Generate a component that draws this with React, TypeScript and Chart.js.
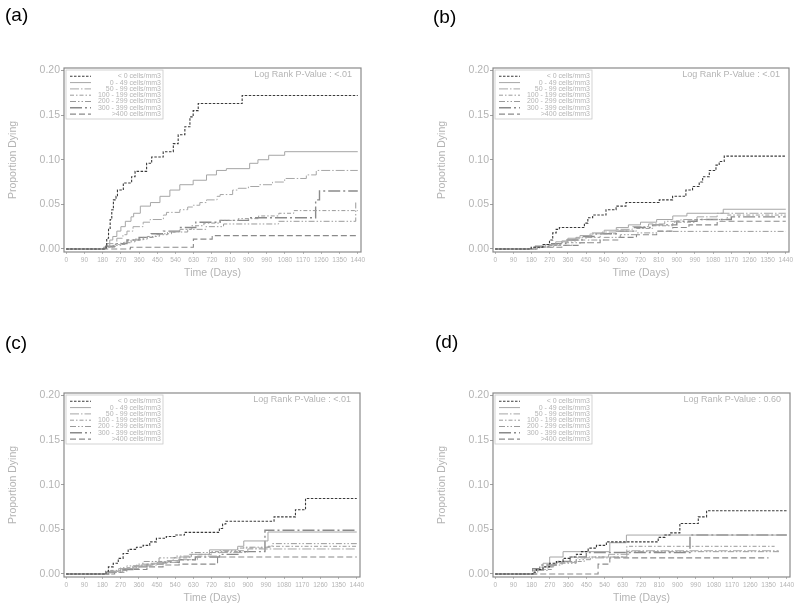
import React, { useEffect, useRef } from "react";
import { Chart, registerables } from "chart.js";
Chart.register(...registerables);

type Pt = [number, number];

const SERIES_LABELS = [
  "< 0 cells/mm3",
  "0 - 49 cells/mm3",
  "50 - 99 cells/mm3",
  "100 - 199 cells/mm3",
  "200 - 299 cells/mm3",
  "300 - 399 cells/mm3",
  ">400 cells/mm3",
];
const X_TICKS = [0, 90, 180, 270, 360, 450, 540, 630, 720, 810, 900, 990, 1080, 1170, 1260, 1350, 1440];
const Y_TICKS = [0, 0.05, 0.1, 0.15, 0.2];
const PANEL_LABELS = ["(a)", "(b)", "(c)", "(d)"];
const P_VALUES = ["<.01", "<.01", "<.01", "0.60"];
const X_TITLE = "Time (Days)";
const Y_TITLE = "Proportion Dying";

// ---- Panel (a)
const A_S1: Pt[] = [[0, 0], [197, 0.004], [200, 0.012], [209, 0.022], [217, 0.033], [225, 0.044], [233, 0.055], [246, 0.059], [253, 0.066], [282, 0.074], [323, 0.081], [340, 0.087], [397, 0.096], [422, 0.103], [479, 0.109], [529, 0.118], [553, 0.128], [586, 0.137], [611, 0.148], [627, 0.155], [652, 0.163], [869, 0.172], [1440, 0.172]];
const A_S2: Pt[] = [[0, 0], [184, 0.002], [200, 0.006], [215, 0.01], [230, 0.014], [250, 0.02], [270, 0.025], [292, 0.031], [320, 0.036], [333, 0.04], [366, 0.048], [416, 0.052], [463, 0.059], [512, 0.066], [561, 0.072], [627, 0.077], [693, 0.083], [742, 0.088], [791, 0.09], [906, 0.096], [947, 0.1], [1000, 0.105], [1079, 0.109], [1440, 0.109]];
const A_S3: Pt[] = [[0, 0], [190, 0.002], [215, 0.006], [250, 0.012], [280, 0.016], [300, 0.02], [330, 0.025], [380, 0.03], [414, 0.033], [480, 0.038], [495, 0.041], [561, 0.044], [600, 0.047], [627, 0.049], [660, 0.052], [693, 0.055], [745, 0.059], [760, 0.061], [822, 0.066], [850, 0.068], [900, 0.07], [955, 0.072], [1019, 0.075], [1079, 0.079], [1186, 0.083], [1235, 0.088], [1440, 0.088]];
const A_S4: Pt[] = [[0, 0], [190, 0.002], [230, 0.004], [270, 0.007], [320, 0.01], [380, 0.013], [440, 0.016], [500, 0.019], [560, 0.022], [620, 0.026], [680, 0.029], [760, 0.032], [850, 0.034], [950, 0.037], [1050, 0.04], [1124, 0.043], [1440, 0.043]];
const A_S5: Pt[] = [[0, 0], [195, 0.002], [240, 0.005], [290, 0.008], [340, 0.011], [400, 0.014], [460, 0.017], [520, 0.019], [600, 0.022], [690, 0.025], [777, 0.028], [1049, 0.031], [1430, 0.052], [1440, 0.052]];
const A_S6: Pt[] = [[0, 0], [195, 0.003], [250, 0.006], [300, 0.01], [360, 0.013], [420, 0.017], [480, 0.02], [560, 0.024], [640, 0.03], [760, 0.032], [900, 0.035], [1232, 0.055], [1251, 0.065], [1440, 0.065]];
const A_S7: Pt[] = [[0, 0], [317, 0.002], [628, 0.011], [721, 0.015], [1440, 0.015]];

// ---- Panel (b)
const B_S1: Pt[] = [[0, 0], [178, 0.002], [236, 0.005], [269, 0.01], [285, 0.018], [302, 0.022], [318, 0.024], [442, 0.029], [459, 0.035], [483, 0.038], [549, 0.044], [599, 0.048], [648, 0.052], [813, 0.055], [879, 0.059], [945, 0.066], [978, 0.07], [1011, 0.075], [1028, 0.081], [1061, 0.088], [1094, 0.094], [1110, 0.098], [1135, 0.104], [1440, 0.104]];
const B_S2: Pt[] = [[0, 0], [190, 0.002], [250, 0.005], [300, 0.008], [360, 0.012], [420, 0.015], [480, 0.018], [540, 0.021], [600, 0.024], [660, 0.027], [720, 0.03], [800, 0.033], [880, 0.037], [950, 0.04], [1130, 0.0445], [1440, 0.0445]];
const B_S3: Pt[] = [[0, 0], [200, 0.002], [270, 0.005], [330, 0.009], [400, 0.013], [470, 0.017], [530, 0.019], [600, 0.022], [680, 0.025], [760, 0.028], [840, 0.031], [920, 0.033], [1000, 0.036], [1100, 0.04], [1440, 0.04]];
const B_S4: Pt[] = [[0, 0], [190, 0.002], [260, 0.004], [320, 0.007], [380, 0.01], [450, 0.013], [520, 0.017], [600, 0.02], [700, 0.023], [780, 0.026], [880, 0.03], [990, 0.033], [1150, 0.038], [1440, 0.038]];
const B_S5: Pt[] = [[0, 0], [210, 0.002], [290, 0.004], [380, 0.007], [460, 0.01], [540, 0.013], [620, 0.016], [700, 0.018], [800, 0.0197], [1440, 0.0197]];
const B_S6: Pt[] = [[0, 0], [200, 0.003], [280, 0.006], [350, 0.01], [430, 0.014], [500, 0.017], [600, 0.02], [690, 0.024], [780, 0.027], [900, 0.031], [1000, 0.033], [1170, 0.036], [1440, 0.036]];
const B_S7: Pt[] = [[0, 0], [220, 0.002], [330, 0.004], [420, 0.007], [520, 0.01], [610, 0.013], [700, 0.016], [800, 0.02], [880, 0.024], [960, 0.027], [1100, 0.031], [1440, 0.031]];

// ---- Panel (c)
const C_S1: Pt[] = [[0, 0], [197, 0.003], [209, 0.008], [233, 0.012], [258, 0.0175], [282, 0.023], [307, 0.0276], [348, 0.03], [381, 0.032], [414, 0.036], [447, 0.04], [496, 0.042], [540, 0.0436], [586, 0.0466], [759, 0.051], [775, 0.056], [791, 0.059], [1030, 0.064], [1136, 0.072], [1186, 0.0845], [1440, 0.0845]];
const C_S2: Pt[] = [[0, 0], [205, 0.003], [260, 0.006], [330, 0.009], [420, 0.012], [500, 0.015], [560, 0.019], [620, 0.022], [710, 0.027], [850, 0.031], [880, 0.037], [1000, 0.047], [1440, 0.047]];
const C_S3: Pt[] = [[0, 0], [210, 0.002], [280, 0.006], [360, 0.01], [450, 0.013], [550, 0.016], [650, 0.02], [760, 0.024], [900, 0.028], [1440, 0.028]];
const C_S4: Pt[] = [[0, 0], [200, 0.003], [270, 0.007], [350, 0.011], [440, 0.014], [530, 0.018], [610, 0.022], [720, 0.025], [850, 0.029], [1000, 0.031], [1440, 0.031]];
const C_S5: Pt[] = [[0, 0], [220, 0.004], [300, 0.009], [380, 0.014], [460, 0.018], [540, 0.02], [620, 0.024], [760, 0.026], [880, 0.03], [1020, 0.034], [1440, 0.034]];
const C_S6: Pt[] = [[0, 0], [210, 0.002], [270, 0.005], [330, 0.008], [400, 0.011], [480, 0.013], [560, 0.016], [640, 0.019], [760, 0.022], [860, 0.025], [985, 0.049], [1440, 0.049]];
const C_S7: Pt[] = [[0, 0], [240, 0.002], [300, 0.005], [400, 0.008], [480, 0.01], [560, 0.011], [750, 0.019], [1440, 0.019]];

// ---- Panel (d)
const D_S1: Pt[] = [[0, 0], [186, 0.002], [203, 0.005], [236, 0.008], [269, 0.012], [302, 0.014], [335, 0.0175], [368, 0.019], [401, 0.022], [426, 0.025], [459, 0.029], [500, 0.032], [549, 0.036], [805, 0.041], [838, 0.0436], [863, 0.046], [912, 0.0566], [1003, 0.064], [1044, 0.0708], [1440, 0.0708]];
const D_S2: Pt[] = [[0, 0], [195, 0.005], [236, 0.012], [269, 0.019], [335, 0.025], [566, 0.035], [648, 0.0436], [1440, 0.0436]];
const D_S3: Pt[] = [[0, 0], [200, 0.004], [260, 0.009], [300, 0.013], [400, 0.018], [560, 0.022], [660, 0.026], [1400, 0.026]];
const D_S4: Pt[] = [[0, 0], [210, 0.005], [280, 0.01], [330, 0.014], [440, 0.019], [650, 0.031], [1380, 0.031]];
const D_S5: Pt[] = [[0, 0], [190, 0.004], [230, 0.008], [290, 0.012], [400, 0.016], [470, 0.019], [650, 0.025], [1410, 0.025]];
const D_S6: Pt[] = [[0, 0], [185, 0.006], [220, 0.01], [300, 0.014], [370, 0.019], [450, 0.024], [962, 0.0436], [1440, 0.0436]];
const D_S7: Pt[] = [[0, 0], [508, 0.011], [566, 0.018], [1350, 0.018]];

const PANEL_DATA: Pt[][][] = [
  [A_S1, A_S2, A_S3, A_S4, A_S5, A_S6, A_S7],
  [B_S1, B_S2, B_S3, B_S4, B_S5, B_S6, B_S7],
  [C_S1, C_S2, C_S3, C_S4, C_S5, C_S6, C_S7],
  [D_S1, D_S2, D_S3, D_S4, D_S5, D_S6, D_S7],
];

// ---- styles / layout
const STYLES = [
  { color: "#3a3a3a", dash: [2.5, 1.5], width: 1.1 },
  { color: "#a6a6a6", dash: [] as number[], width: 1 },
  { color: "#a6a6a6", dash: [9, 2, 1.5, 2], width: 1 },
  { color: "#9a9a9a", dash: [4, 2, 1.5, 2], width: 1 },
  { color: "#9a9a9a", dash: [6, 2, 1.5, 2, 1.5, 2], width: 1 },
  { color: "#8a8a8a", dash: [12, 3, 2, 3], width: 1.4 },
  { color: "#8a8a8a", dash: [6, 3], width: 1.1 },
];

const FONT = "'Liberation Sans', Arial, sans-serif";
const TEXT = "#b4b4b4";

const LAYOUT = [
  { x: 0, y: 0, w: 400, h: 300, l: 64, r: 361, t: 68, b: 252, lx: 5, ly: 15 },
  { x: 400, y: 0, w: 400, h: 300, l: 93, r: 389, t: 68, b: 252, lx: 433, ly: 17 },
  { x: 0, y: 300, w: 400, h: 310, l: 64, r: 360, t: 93, b: 277, lx: 5, ly: 343 },
  { x: 400, y: 300, w: 400, h: 310, l: 93, r: 390, t: 93, b: 277, lx: 435, ly: 342 },
];

const Y_AXIS_W = 40;
const X_AXIS_H = 24;

function makeDecor(pValue: string) {
  return {
    id: "decor",
    afterDraw(chart: any) {
      const { ctx, chartArea } = chart;
      const { left, right, top, bottom } = chartArea;
      ctx.save();
      // box
      ctx.strokeStyle = "#8a8a8a";
      ctx.lineWidth = 1.2;
      ctx.setLineDash([]);
      ctx.strokeRect(left, top, right - left, bottom - top);

      // legend
      const lx = left + 2, ly = top + 2;
      ctx.lineWidth = 0.8;
      ctx.strokeStyle = "#c8c8c8";
      ctx.strokeRect(lx, ly, 97, 49);
      ctx.font = `7px ${FONT}`;
      ctx.textBaseline = "middle";
      ctx.textAlign = "right";
      SERIES_LABELS.forEach((lab, i) => {
        const y = top + 8.3 + i * 6.3;
        const st = STYLES[i];
        ctx.beginPath();
        ctx.strokeStyle = st.color;
        ctx.lineWidth = st.width;
        ctx.setLineDash(st.dash);
        ctx.moveTo(left + 6, y);
        ctx.lineTo(left + 27, y);
        ctx.stroke();
        ctx.setLineDash([]);
        ctx.fillStyle = TEXT;
        ctx.fillText(lab, left + 97, y);
      });

      // p-value
      ctx.font = `9px ${FONT}`;
      ctx.textAlign = "right";
      ctx.fillStyle = TEXT;
      ctx.fillText(`Log Rank P-Value : ${pValue}`, right - 9, top + 6.5);

      // axis titles
      ctx.font = `10.5px ${FONT}`;
      ctx.textAlign = "center";
      ctx.fillText(X_TITLE, (left + right) / 2, bottom + 21);
      ctx.translate(left - 51, (top + bottom) / 2);
      ctx.rotate(-Math.PI / 2);
      ctx.fillText(Y_TITLE, 0, 0);
      ctx.restore();
    },
  };
}

function Panel({ idx }: { idx: number }) {
  const ref = useRef<HTMLCanvasElement>(null);
  const L = LAYOUT[idx];
  useEffect(() => {
    if (!ref.current) return;
    const series = PANEL_DATA[idx];
    const chart = new Chart(ref.current, {
      type: "line",
      data: {
        datasets: series.map((pts, i) => ({
          label: SERIES_LABELS[i],
          data: pts.map(([x, y]) => ({ x, y })),
          stepped: true,
          borderColor: STYLES[i].color,
          borderWidth: STYLES[i].width,
          borderDash: STYLES[i].dash,
          pointRadius: 0,
          fill: false,
          tension: 0,
        })),
      },
      options: {
        animation: false,
        responsive: false,
        devicePixelRatio: 1,
        layout: {
          padding: {
            left: L.l - Y_AXIS_W,
            top: L.t,
            right: L.w - L.r,
            bottom: L.h - L.b - X_AXIS_H,
          },
        },
        plugins: { legend: { display: false }, tooltip: { enabled: false } },
        scales: {
          x: {
            type: "linear",
            min: -11,
            max: 1456,
            afterBuildTicks: (s: any) => {
              s.ticks = X_TICKS.map((v) => ({ value: v }));
            },
            afterFit: (s: any) => {
              s.height = X_AXIS_H;
            },
            grid: { display: true, drawOnChartArea: false, drawTicks: true, tickLength: 2, color: "#b8b8b8" },
            border: { display: false },
            ticks: {
              autoSkip: false,
              maxRotation: 0,
              padding: 2,
              color: TEXT,
              font: { family: FONT, size: 6.5 },
              callback: (v: any) => String(v),
            },
          },
          y: {
            type: "linear",
            min: -0.0034,
            max: 0.2028,
            afterBuildTicks: (s: any) => {
              s.ticks = Y_TICKS.map((v) => ({ value: v }));
            },
            afterFit: (s: any) => {
              s.width = Y_AXIS_W;
            },
            grid: { display: true, drawOnChartArea: false, drawTicks: true, tickLength: 3, color: "#a0a0a0" },
            border: { display: false },
            ticks: {
              padding: 1,
              color: TEXT,
              font: { family: FONT, size: 10.5 },
              callback: (v: any) => Number(v).toFixed(2),
            },
          },
        },
      },
      plugins: [makeDecor(P_VALUES[idx])],
    } as any);
    return () => chart.destroy();
  }, [idx]);
  return (
    <canvas
      ref={ref}
      width={L.w}
      height={L.h}
      style={{ position: "absolute", left: L.x, top: L.y, width: L.w, height: L.h }}
    />
  );
}

export default function App() {
  return (
    <div style={{ position: "fixed", left: 0, top: 0, width: 800, height: 610, background: "#fff", overflow: "hidden" }}>
      {LAYOUT.map((L, i) => (
        <Panel key={i} idx={i} />
      ))}
      {LAYOUT.map((L, i) => (
        <div
          key={"lab" + i}
          style={{
            position: "absolute",
            left: L.lx,
            top: L.ly - 10,
            fontFamily: FONT,
            fontSize: 19,
            lineHeight: "20px",
            color: "#000",
          }}
        >
          {PANEL_LABELS[i]}
        </div>
      ))}
    </div>
  );
}
